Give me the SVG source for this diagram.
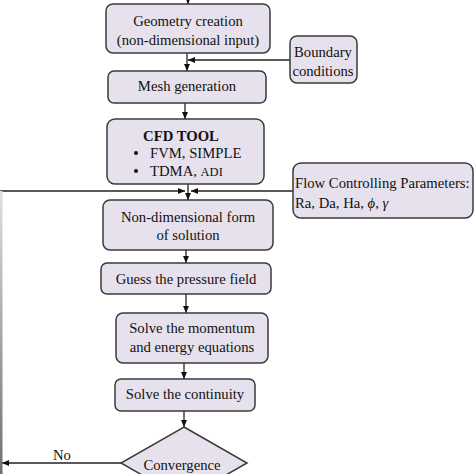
<svg xmlns="http://www.w3.org/2000/svg" width="474" height="474" viewBox="0 0 474 474">
<defs>
<style>
.box{fill:#e6e1ec;stroke:#3a3a3a;stroke-width:1.5}
.t{font-family:"Liberation Serif","Times New Roman",serif;font-size:14.7px;fill:#111}
.c{text-anchor:middle}
.ln{stroke:#222;stroke-width:1.3;fill:none}
</style>
<marker id="ah" markerWidth="8" markerHeight="8" refX="7" refY="4" orient="auto" markerUnits="userSpaceOnUse">
<path d="M0,1 L7,4 L0,7 Z" fill="#111"/>
</marker>
<linearGradient id="lg" x1="0" y1="0" x2="0" y2="1">
<stop offset="0" stop-color="#e0e0e0"/>
<stop offset="1" stop-color="#707070"/>
</linearGradient>
</defs>
<g id="connectors">
<line class="ln" x1="188" y1="0" x2="188" y2="4" marker-end="url(#ah)"/>
<line class="ln" x1="187" y1="53" x2="187" y2="71" marker-end="url(#ah)"/>
<line class="ln" x1="290" y1="60" x2="188" y2="60" marker-end="url(#ah)"/>
<line class="ln" x1="185" y1="103" x2="185" y2="119" marker-end="url(#ah)"/>
<line class="ln" x1="188" y1="184" x2="188" y2="200" marker-end="url(#ah)"/>
<line class="ln" x1="0" y1="191" x2="185" y2="191" marker-end="url(#ah)"/>
<line class="ln" x1="293" y1="191" x2="191" y2="191" marker-end="url(#ah)"/>
<line class="ln" x1="186" y1="250" x2="186" y2="263" marker-end="url(#ah)"/>
<line class="ln" x1="186" y1="294" x2="186" y2="313" marker-end="url(#ah)"/>
<line class="ln" x1="184" y1="363" x2="184" y2="379" marker-end="url(#ah)"/>
<line class="ln" x1="184" y1="411" x2="184" y2="427" marker-end="url(#ah)"/>
<line class="ln" x1="121" y1="463" x2="2" y2="463" marker-end="url(#ah)"/>
<rect x="0" y="191" width="2.5" height="283" fill="url(#lg)"/>
<text class="t c" x="62" y="460">No</text>
</g>
<g id="geometry">
<rect class="box" x="106" y="4" width="164" height="49" rx="7"/>
<text class="t c" x="188" y="26">Geometry creation</text>
<text class="t c" x="188" y="45">(non-dimensional input)</text>
</g>
<g id="boundary">
<rect class="box" x="290" y="36" width="67" height="47" rx="7"/>
<text class="t c" x="323" y="57">Boundary</text>
<text class="t c" x="323" y="76">conditions</text>
</g>
<g id="mesh">
<rect class="box" x="108" y="71" width="158" height="32" rx="6"/>
<text class="t c" x="187" y="91">Mesh generation</text>
</g>
<g id="cfd">
<rect class="box" x="107" y="119" width="157" height="65" rx="8"/>
<text class="t c" x="181" y="141" font-weight="bold">CFD TOOL</text>
<circle cx="136" cy="153" r="2" fill="#111"/>
<circle cx="136" cy="171" r="2" fill="#111"/>
<text class="t" x="150" y="158">FVM, SIMPLE</text>
<text class="t" x="150" y="176">TDMA, <tspan font-size="12.5">ADI</tspan></text>
</g>
<g id="flow">
<rect class="box" x="293" y="163" width="180" height="55" rx="8"/>
<text class="t" x="295" y="188">Flow Controlling Parameters:</text>
<text class="t" x="295" y="208">Ra, Da, Ha, <tspan font-style="italic">ϕ</tspan>, <tspan font-style="italic">γ</tspan></text>
</g>
<g id="nondim">
<rect class="box" x="103" y="200" width="170" height="50" rx="7"/>
<text class="t c" x="188" y="222">Non-dimensional form</text>
<text class="t c" x="188" y="240">of solution</text>
</g>
<g id="guess">
<rect class="box" x="101" y="263" width="170" height="31" rx="6"/>
<text class="t c" x="186" y="284">Guess the pressure field</text>
</g>
<g id="momentum">
<rect class="box" x="116" y="313" width="152" height="50" rx="7"/>
<text class="t c" x="192" y="333">Solve the momentum</text>
<text class="t c" x="192" y="352">and energy equations</text>
</g>
<g id="continuity">
<rect class="box" x="115" y="379" width="140" height="32" rx="6"/>
<text class="t c" x="185" y="399">Solve the continuity</text>
</g>
<g id="convergence">
<polygon class="box" points="184,427 247,463 184,499 121,463"/>
<text class="t c" x="182" y="470">Convergence</text>
</g>
</svg>
